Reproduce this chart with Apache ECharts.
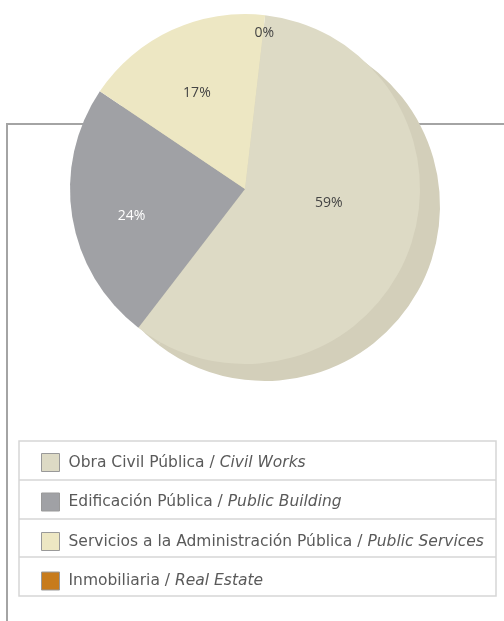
<!DOCTYPE html>
<html><head><meta charset="utf-8">
<script src="https://cdn.jsdelivr.net/npm/echarts@6/dist/echarts.min.js"></script>
<style>html,body{margin:0;padding:0;background:#fff}#c{width:504px;height:621px}</style>
</head><body><div id="c"></div>
<script>
var categories = ['Obra Civil Pública', 'Edificación Pública', 'Servicios a la Administración Pública', 'Inmobiliaria'];
var categoriesEn = ['Civil Works', 'Public Building', 'Public Services', 'Real Estate'];
var values = [58.6, 24.0, 17.4, 0];
var colors = ['#dddac5', '#a0a1a5', '#ede7c3', '#c77b1c'];
var labelColors = ['#444', '#fff', '#444', '#444'];

var chart = echarts.init(document.getElementById('c'), null, {renderer: 'canvas'});

// small label nudges (style only)
function labelNudge(i) {
  return [[0, -20], [0, 9], [0, 8], [1, 3]][i];
}
function data(showIdx, transparent) {
  return categories.map(function (c, i) {
    return {
      name: c, value: values[i],
      itemStyle: {color: transparent ? 'rgba(0,0,0,0)' : colors[i]},
      label: {show: showIdx.indexOf(i) >= 0, color: labelColors[i], offset: labelNudge(i)}
    };
  });
}
var startAngle = 83.4;
var center = [245, 189];
var R = 175;
var labelBase = {
  position: 'inside', fontFamily: 'Open Sans', fontSize: 14,
  formatter: function (p) { return Math.round(p.value) + '%'; }
};

var option = {
  animation: false,
  color: colors,
  legend: {
    orient: 'vertical', left: 41, top: 453, padding: 0, itemWidth: 18, itemHeight: 18, itemGap: 20.5,
    icon: 'rect', selectedMode: false,
    itemStyle: {borderColor: '#999', borderWidth: 1},
    data: categories,
    formatter: function (n) { var i = categories.indexOf(n); return '{a|' + n + ' / }{b|' + categoriesEn[i] + '}'; },
    textStyle: {
      padding: [0, 0, 0, 4],
      rich: {
        a: {fontFamily: 'DejaVu Sans', fontSize: 15.5, lineHeight: 18, color: '#5a5a5a'},
        b: {fontFamily: 'DejaVu Sans', fontSize: 15.5, lineHeight: 18, color: '#5a5a5a', fontStyle: 'italic'}
      }
    }
  },
  graphic: [
    {type: 'line', z: -10, shape: {x1: 7, y1: 124, x2: 504, y2: 124}, style: {stroke: '#a4a4a4', lineWidth: 2}},
    {type: 'line', z: -10, shape: {x1: 7, y1: 123, x2: 7, y2: 621}, style: {stroke: '#a4a4a4', lineWidth: 2}},
    {type: 'rect', z: -9, shape: {x: 19, y: 441, width: 477, height: 155}, style: {fill: '#fff', stroke: '#d6d6d6', lineWidth: 1.5}},
    {type: 'line', z: -8, shape: {x1: 19, y1: 480, x2: 496, y2: 480}, style: {stroke: '#d6d6d6', lineWidth: 1.5}},
    {type: 'line', z: -8, shape: {x1: 19, y1: 519, x2: 496, y2: 519}, style: {stroke: '#d6d6d6', lineWidth: 1.5}},
    {type: 'line', z: -8, shape: {x1: 19, y1: 557, x2: 496, y2: 557}, style: {stroke: '#d6d6d6', lineWidth: 1.5}}
  ],
  series: [
    {
      type: 'pie', silent: true, z: 2, center: center, radius: R, startAngle: startAngle,
      label: labelBase, labelLine: {show: false},
      data: data([0], false)
    },
    {
      type: 'pie', silent: true, z: 1, center: [center[0] + 20, center[1] + 17], radius: R, startAngle: startAngle,
      label: {show: false}, labelLine: {show: false},
      itemStyle: {color: '#d3cfba'},
      data: values.map(function (v, i) { return {name: '_shadow' + i, value: v}; })
    },
    {
      type: 'pie', silent: true, z: 3, center: center, radius: [0, 224], startAngle: startAngle,
      label: labelBase, labelLine: {show: false},
      data: data([1, 2], true)
    },
    {
      type: 'pie', silent: true, z: 3, center: center, radius: [0, 314], startAngle: startAngle,
      label: labelBase, labelLine: {show: false},
      data: data([3], true)
    }
  ]
};
chart.setOption(option);
</script></body></html>
